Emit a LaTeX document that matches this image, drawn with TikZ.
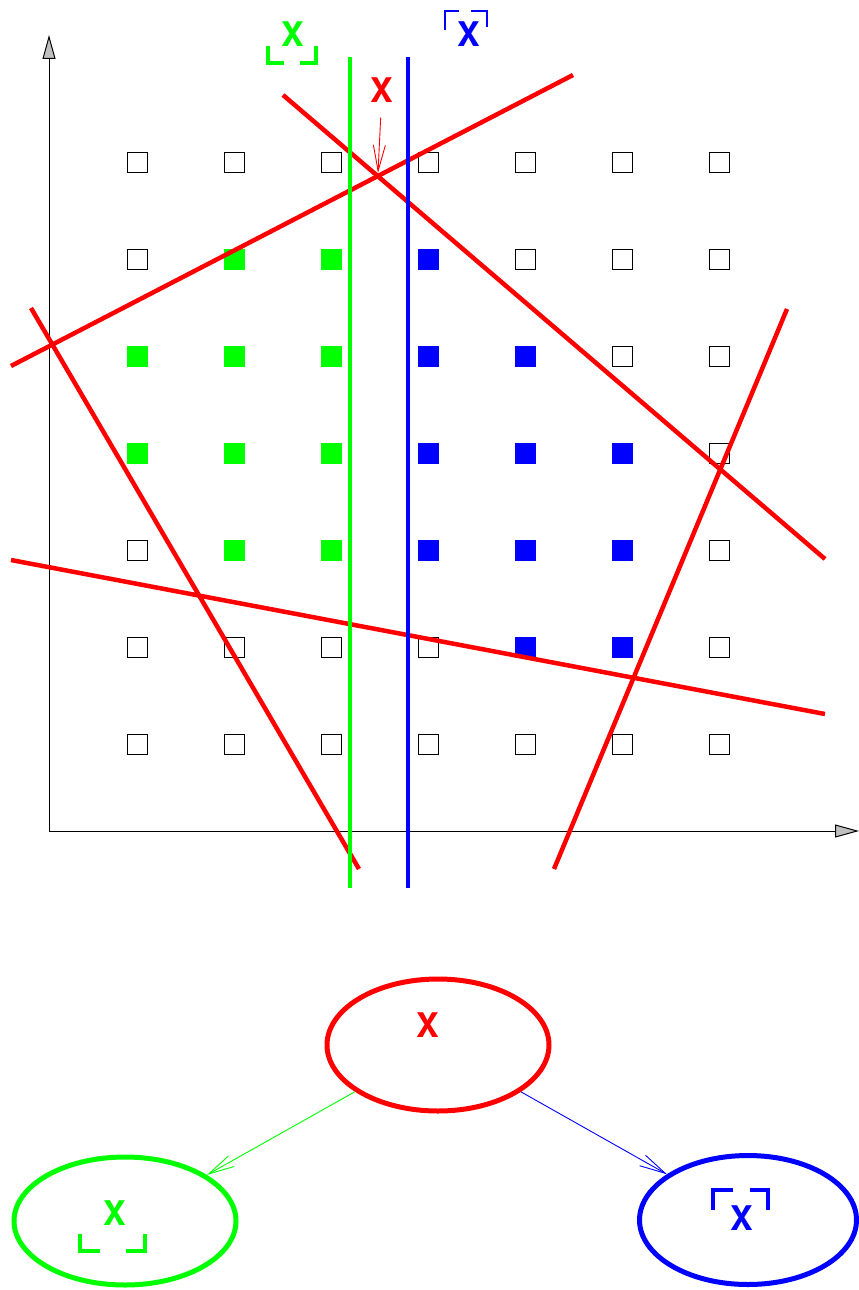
\documentclass[tikz,border=0pt]{standalone}
\usepackage{fontspec}
\newfontfamily\helv{TeX Gyre Heros}
\usetikzlibrary{arrows.meta,shapes.geometric,positioning}
\definecolor{xred}{RGB}{255,0,0}
\definecolor{xgreen}{RGB}{0,255,0}
\definecolor{xblue}{RGB}{0,0,255}
\tikzset{
  cell/.style={draw, line width=1pt, minimum size=20pt, inner sep=0pt},
  gcell/.style={fill=xgreen, minimum size=21pt, inner sep=0pt},
  bcell/.style={fill=xblue, minimum size=21pt, inner sep=0pt},
  cutline/.style={draw=xred, line width=4.5pt},
  setnode/.style={draw, ellipse, line width=5pt, inner sep=0pt},
  lbl/.style={font=\helv\bfseries\fontsize{34}{34}\selectfont, inner sep=0pt},
  brk/.style={line width=4.5pt, line cap=rect},
  axisline/.style={line width=1pt, -{Triangle[length=24pt,width=13pt,fill=lightgray]}},
  link/.style={line width=0.9pt, -{Straight Barb[length=26pt,width=12pt]}},
}

\begin{document}
\begin{tikzpicture}[x=1pt, y=-1pt]
    \useasboundingbox (0,0) rectangle (859,1290);
    % Axes
    \coordinate (o)    at (49,831);
    \coordinate (ytop) at (49,35);
    \coordinate (xend) at (859,831);
    \draw[axisline] (o) -- (ytop);
    \draw[axisline] (o) -- (xend);
    % Grid
    \foreach \i in {1,...,7}
      \foreach \j in {1,...,7}
        \node[cell] (c\i\j) at (40+97*\i, 65+97*\j) {};
    \foreach \c in {22,32,13,23,33,14,24,34,25,35}
      \node[gcell] at (c\c) {};
    \foreach \c in {42,43,53,44,54,64,45,55,65,56,66}
      \node[bcell] at (c\c) {};
    % Cuts
    \draw[cutline] (283,95)  -- (825,559);
    \draw[cutline] (11,366)  -- (573,75);
    \draw[cutline] (31,308)  -- (359,869);
    \draw[cutline] (11,560)  -- (825,714);
    \draw[cutline] (787,309) -- (554,869);
    \draw[line width=4.5pt, xgreen] (350,57) -- (350,888);
    \draw[line width=4.5pt, xblue]  (408,57) -- (408,888);
    % Top labels
    \node[lbl, text=xgreen] (gX) at (293,34) {X};
    \draw[brk, xgreen, line width=3.5pt] (268,48) -- (268,63) -- (282,63);
    \draw[brk, xgreen, line width=3.5pt] (302,63) -- (316,63) -- (316,48);
    \node[lbl, text=xblue] (bX) at (469,34) {X};
    \draw[xblue, line width=1.2pt] (445,30) -- (445,11) -- (459,11);
    \draw[xblue, line width=1.2pt] (471,11) -- (487,11) -- (487,27);
    \node[lbl, text=xred] (rX) at (382,90) {X};
    \coordinate (rpt) at (378,173);
    \draw[link, xred, shorten <=15pt] (rX) -- (rpt);
    % Tree
    \node[setnode, draw=xred,   minimum width=222pt, minimum height=132pt] (top)   at (438,1045) {};
    \node[setnode, draw=xgreen, minimum width=222pt, minimum height=128pt] (left)  at (125,1221) {};
    \node[setnode, draw=xblue,  minimum width=217pt, minimum height=129pt] (right) at (748,1220) {};
    \node[lbl, text=xred]   at (428,1025) {X};
    \node[lbl, text=xgreen] at (115,1213) {X};
    \draw[brk, xgreen] (80,1236) -- (80,1251) -- (98,1251);
    \draw[brk, xgreen] (128,1251) -- (145,1251) -- (145,1236);
    \node[lbl, text=xblue]  at (742,1218) {X};
    \draw[brk, xblue] (713,1208) -- (713,1190) -- (731,1190);
    \draw[brk, xblue] (752,1190) -- (768,1190) -- (768,1208);
    \draw[link, xgreen] (top) -- (left);
    \draw[link, xblue]  (top) -- (right);
\end{tikzpicture}
\end{document}
